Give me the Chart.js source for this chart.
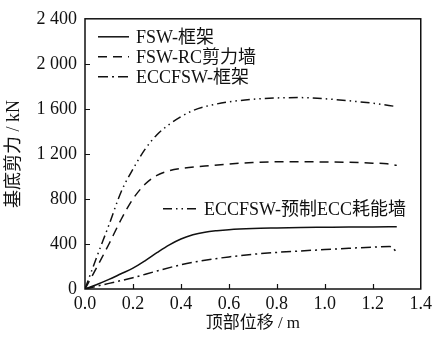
<!DOCTYPE html>
<html>
<head>
<meta charset="utf-8">
<script src="https://cdn.jsdelivr.net/npm/chart.js@4/dist/chart.umd.min.js"></script>
<style>
html,body{margin:0;padding:0;background:#fff;}
#wrap{width:436px;height:337px;position:relative;}
</style>
</head>
<body>
<div id="wrap"><canvas id="c" width="436" height="337"></canvas></div>
<script>
// ---- data ----
const seriesNames = ['FSW-框架', 'FSW-RC剪力墙', 'ECCFSW-框架', 'ECCFSW-预制ECC耗能墙'];

const xFSW = [0, 0.05, 0.1, 0.15, 0.2, 0.25, 0.3, 0.35, 0.4, 0.45, 0.5, 0.55, 0.6, 0.7, 0.8, 0.9, 1.0, 1.1, 1.2, 1.3];
const yFSW = [0, 40, 85, 135, 185, 250, 322, 390, 444, 482, 505, 518, 527, 537, 542, 546, 548, 550, 551, 553];

const xRC = [0, 0.05, 0.1, 0.15, 0.2, 0.25, 0.3, 0.35, 0.4, 0.5, 0.6, 0.7, 0.8, 0.9, 1.0, 1.1, 1.2, 1.26, 1.3];
const yRC = [0, 195, 400, 615, 800, 930, 1010, 1050, 1071, 1092, 1110, 1124, 1130, 1130, 1128, 1125, 1118, 1112, 1098];

const xECCF = [0, 0.1, 0.2, 0.3, 0.4, 0.5, 0.6, 0.7, 0.8, 0.9, 1.0, 1.1, 1.2, 1.27, 1.3];
const yECCF = [0, 50, 100, 160, 215, 255, 285, 308, 325, 338, 350, 362, 372, 378, 330];

const xECCW = [0, 0.05, 0.1, 0.15, 0.2, 0.25, 0.3, 0.35, 0.4, 0.45, 0.5, 0.6, 0.7, 0.8, 0.9, 1.0, 1.1, 1.2, 1.3];
const yECCW = [0, 290, 570, 860, 1065, 1240, 1370, 1460, 1530, 1585, 1620, 1662, 1685, 1697, 1700, 1690, 1672, 1650, 1620];

const xTickValues = [0, 0.2, 0.4, 0.6, 0.8, 1.0, 1.2, 1.4];
const yTickValues = [0, 400, 800, 1200, 1600, 2000, 2400];
const yTickLabels = ['0', '400', '800', '1 200', '1 600', '2 000', '2 400'];

// ---- chart ----
const serif = "'Liberation Serif', 'Noto Sans CJK SC', serif";
const ink = '#111';
const pts = (xs, ys) => xs.map((v, i) => ({x: v, y: ys[i]}));

const styles = [
  {dash: []},
  {dash: [9, 6]},
  {dash: [10, 4, 2, 4]},
  {dash: [9, 4, 1.5, 4, 1.5, 4]}
];

const ds = [
  pts(xFSW, yFSW), pts(xRC, yRC), pts(xECCF, yECCF), pts(xECCW, yECCW)
].map((d, i) => ({
  label: seriesNames[i],
  data: d,
  borderColor: ink,
  borderWidth: 1.5,
  borderDash: styles[i].dash,
  pointRadius: 0,
  fill: false,
  cubicInterpolationMode: 'monotone'
}));

const framePlugin = {
  id: 'frame',
  afterDraw(chart) {
    const {ctx, chartArea: a, scales} = chart;
    ctx.save();
    ctx.strokeStyle = ink;
    ctx.lineWidth = 1.5;
    ctx.setLineDash([]);
    ctx.strokeRect(a.left, a.top, a.right - a.left, a.bottom - a.top);
    ctx.lineWidth = 1.2;
    ctx.beginPath();
    xTickValues.forEach(v => {
      if (v <= 0 || v >= 1.4) return;
      const px = Math.round(scales.x.getPixelForValue(v)) + 0.5;
      ctx.moveTo(px, a.bottom); ctx.lineTo(px, a.bottom - 5);
    });
    yTickValues.forEach(v => {
      if (v <= 0 || v >= 2400) return;
      const py = Math.round(scales.y.getPixelForValue(v)) + 0.5;
      ctx.moveTo(a.left, py); ctx.lineTo(a.left + 5, py);
    });
    ctx.stroke();

    // legend
    const items = [
      {i: 0, x1: a.left + 13, x2: a.left + 44, tx: a.left + 51, y: a.top + 18},
      {i: 1, x1: a.left + 13, x2: a.left + 44, tx: a.left + 51, y: a.top + 38},
      {i: 2, x1: a.left + 13, x2: a.left + 44, tx: a.left + 51, y: a.top + 58},
      {i: 3, x1: a.left + 78, x2: a.left + 114, tx: a.left + 119, y: a.top + 190}
    ];
    ctx.font = "18px " + serif;
    ctx.fillStyle = ink;
    ctx.textBaseline = 'middle';
    items.forEach(it => {
      ctx.beginPath();
      ctx.lineWidth = 1.5;
      ctx.setLineDash(styles[it.i].dash);
      ctx.moveTo(it.x1, it.y); ctx.lineTo(it.x2, it.y);
      ctx.stroke();
      ctx.setLineDash([]);
      ctx.fillText(seriesNames[it.i], it.tx, it.y + 1);
    });
    ctx.restore();
  }
};

new Chart(document.getElementById('c'), {
  type: 'line',
  data: {datasets: ds},
  plugins: [framePlugin],
  options: {
    responsive: false,
    animation: false,
    devicePixelRatio: 1,
    layout: {padding: {left: 0, right: 11, top: 15, bottom: 0}},
    plugins: {legend: {display: false}, tooltip: {enabled: false}},
    scales: {
      x: {
        type: 'linear', min: 0, max: 1.4,
        afterBuildTicks: s => { s.ticks = xTickValues.map(v => ({value: v})); },
        afterFit: s => { s.height = 48; },
        grid: {display: false, drawTicks: false},
        border: {display: false},
        ticks: {padding: 4, color: ink, font: {family: serif, size: 18}, callback: v => Number(v).toFixed(1), maxRotation: 0, autoSkip: false},
        title: {display: true, text: '顶部位移 / m', color: ink, font: {family: serif, size: 17}, padding: {top: 0, bottom: 3}}
      },
      y: {
        type: 'linear', min: 0, max: 2400,
        afterBuildTicks: s => { s.ticks = yTickValues.map(v => ({value: v})); },
        afterFit: s => { s.width = 85; },
        grid: {display: false, drawTicks: false},
        border: {display: false},
        ticks: {padding: 8, color: ink, font: {family: serif, size: 18},
          callback: (v) => { const k = yTickValues.indexOf(v); return k >= 0 ? yTickLabels[k] : ''; }, autoSkip: false},
        title: {display: true, text: '基底剪力 / kN', color: ink, font: {family: serif, size: 18}, padding: {top: 3, bottom: 0}}
      }
    }
  }
});
</script>
</body>
</html>
